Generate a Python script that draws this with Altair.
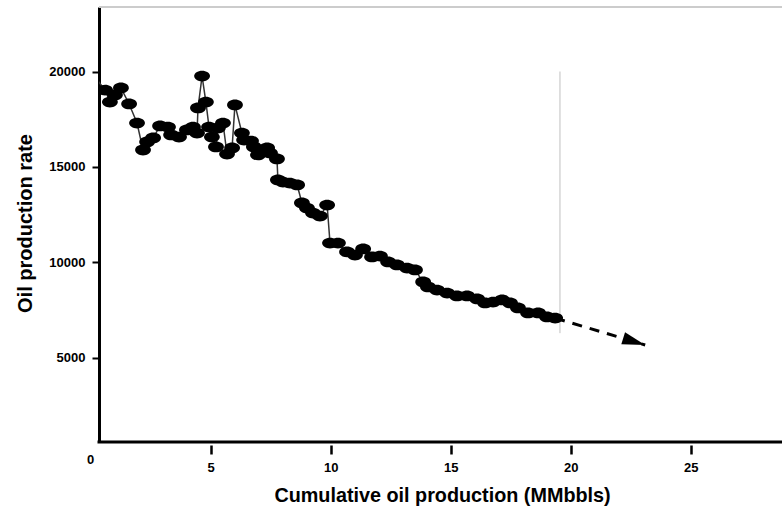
import altair as alt
import pandas as pd

# Cumulative oil production (MMbbls) and oil production rate at each survey
cum_oil = [0.00, 0.60, 0.80, 1.01, 1.26, 1.60, 1.93, 2.18, 2.35, 2.60, 2.89, 3.22,
           3.35, 3.68, 4.01, 4.26, 4.43, 4.47, 4.64, 4.80, 4.93, 5.05, 5.22, 5.30,
           5.51, 5.68, 5.89, 6.01, 6.30, 6.39, 6.68, 6.80, 6.97, 7.35, 7.47, 7.76,
           7.80, 8.01, 8.30, 8.60, 8.80, 9.01, 9.26, 9.55, 9.85, 9.97, 10.30, 10.68,
           11.01, 11.35, 11.72, 12.05, 12.39, 12.76, 13.18, 13.51, 13.85, 14.05, 14.43, 14.85,
           15.26, 15.68, 16.10, 16.43, 16.76, 17.14, 17.47, 17.80, 18.22, 18.64, 19.01, 19.35]
oil_rate = [20000, 19030, 18400, 18770, 19140, 18300, 17300, 15890, 16310, 16520, 17150, 17090,
            16680, 16570, 16940, 17090, 16780, 18090, 19760, 18400, 17090, 16570, 16050, 17040,
            17300, 15680, 16000, 18250, 16780, 16410, 16360, 16050, 15630, 16000, 15730, 15420,
            14320, 14210, 14160, 14060, 13120, 12850, 12590, 12430, 13010, 11020, 11020, 10550,
            10390, 10710, 10290, 10340, 10030, 9870, 9710, 9610, 8980, 8720, 8560, 8400,
            8250, 8250, 8090, 7880, 7930, 8040, 7880, 7620, 7360, 7360, 7150, 7090]

# Extrapolated decline (dashed arrow)
forecast_x = [19.35, 23.10]
forecast_y = [7090, 5680]

# Present-day marker line
cutoff_x = [19.55, 19.55]
cutoff_y = [20000, 6300]

x_ticks = [5, 10, 15, 20, 25]
y_ticks = [5000, 10000, 15000, 20000]

X_DOMAIN = [0.346, 28.80]
Y_DOMAIN = [602, 23377]

FONT = "Liberation Sans, Arial, sans-serif"
ELLIPSE = "M-1,0A1,0.68,0,1,1,1,0A1,0.68,0,1,1,-1,0Z"
ARROW = "M0,0L-2,-0.55L-2,0.55Z"

xs = alt.Scale(domain=X_DOMAIN, nice=False, zero=False)
ys = alt.Scale(domain=Y_DOMAIN, nice=False, zero=False)

hist = pd.DataFrame({"q": cum_oil, "rate": oil_rate, "i": range(len(cum_oil))})
fc = pd.DataFrame({"q": forecast_x, "rate": forecast_y})
cut = pd.DataFrame({"q": cutoff_x, "rate": cutoff_y})
frame = pd.DataFrame({"q": [X_DOMAIN[0]], "q2": [X_DOMAIN[1]],
                      "rate": [Y_DOMAIN[0]], "top": [Y_DOMAIN[1]]})
zero_lbl = pd.DataFrame({"q": [0], "rate": [Y_DOMAIN[0]], "t": ["0"]})
tip = fc.tail(1)

x_axis = alt.Axis(values=x_ticks, format="d", domain=False, offset=3, tickSize=9,
                  tickWidth=2.5, tickColor="black", labelPadding=7, labelFontSize=13,
                  title="Cumulative oil production (MMbbls)", titleFontSize=19.8,
                  titleX=343, titleY=50, titleBaseline="middle", titleAlign="center")
y_axis = alt.Axis(values=y_ticks, format="d", domainWidth=3, domainColor="black",
                  tickSize=7, tickWidth=2, tickColor="black", labelPadding=7,
                  labelFontSize=13, title="Oil production rate", titleFontSize=20,
                  titleAngle=270, titleX=-74, titleY=216, titleBaseline="middle",
                  titleAlign="center")

X = lambda f="q:Q": alt.X(f, scale=xs, axis=x_axis)
Y = lambda f="rate:Q": alt.Y(f, scale=ys, axis=y_axis)

# x-axis baseline and light frame line along the top
x_line = alt.Chart(frame).mark_rule(color="black", strokeWidth=3, strokeCap="square").encode(
    x=X(), x2="q2:Q", y=Y())
top_line = alt.Chart(frame).mark_rule(color="#cccccc", strokeWidth=2).encode(
    x=X(), x2="q2:Q", y=Y("top:Q"))

cutoff = alt.Chart(cut).mark_line(color="#c0c0c0", strokeWidth=1).encode(x=X(), y=Y())

trend = alt.Chart(hist).mark_line(color="#333333", strokeWidth=1.5, clip=True).encode(
    x=X(), y=Y(), order="i:Q")
dots = alt.Chart(hist).mark_point(shape=ELLIPSE, size=250, filled=True, color="black",
                                  opacity=1, strokeWidth=0, clip=True).encode(x=X(), y=Y())

dash = alt.Chart(fc).mark_line(color="black", strokeWidth=3, strokeDash=[10, 8]).encode(
    x=X(), y=Y())
head = alt.Chart(tip).mark_point(shape=ARROW, size=529, angle=17, filled=True,
                                 color="black", opacity=1, strokeWidth=0).encode(x=X(), y=Y())

zero = alt.Chart(zero_lbl).mark_text(font=FONT, fontWeight="bold", fontSize=13,
                                     baseline="middle", align="center", dy=17.5,
                                     color="black").encode(x=X(), y=Y(), text="t:N")

chart = alt.layer(x_line, top_line, cutoff, trend, dots, dash, head, zero).properties(
    width=683, height=435,
    padding={"left": 99, "top": 7, "right": 0, "bottom": 69},
    autosize=alt.AutoSizeParams(type="none"),
    background="white",
).configure_view(stroke=None).configure_axis(
    grid=False, labelFont=FONT, titleFont=FONT, labelFontWeight="bold",
    titleFontWeight="bold", labelColor="black", titleColor="black",
)

chart.save("out.html", embed_options={"renderer": "svg", "actions": False})
